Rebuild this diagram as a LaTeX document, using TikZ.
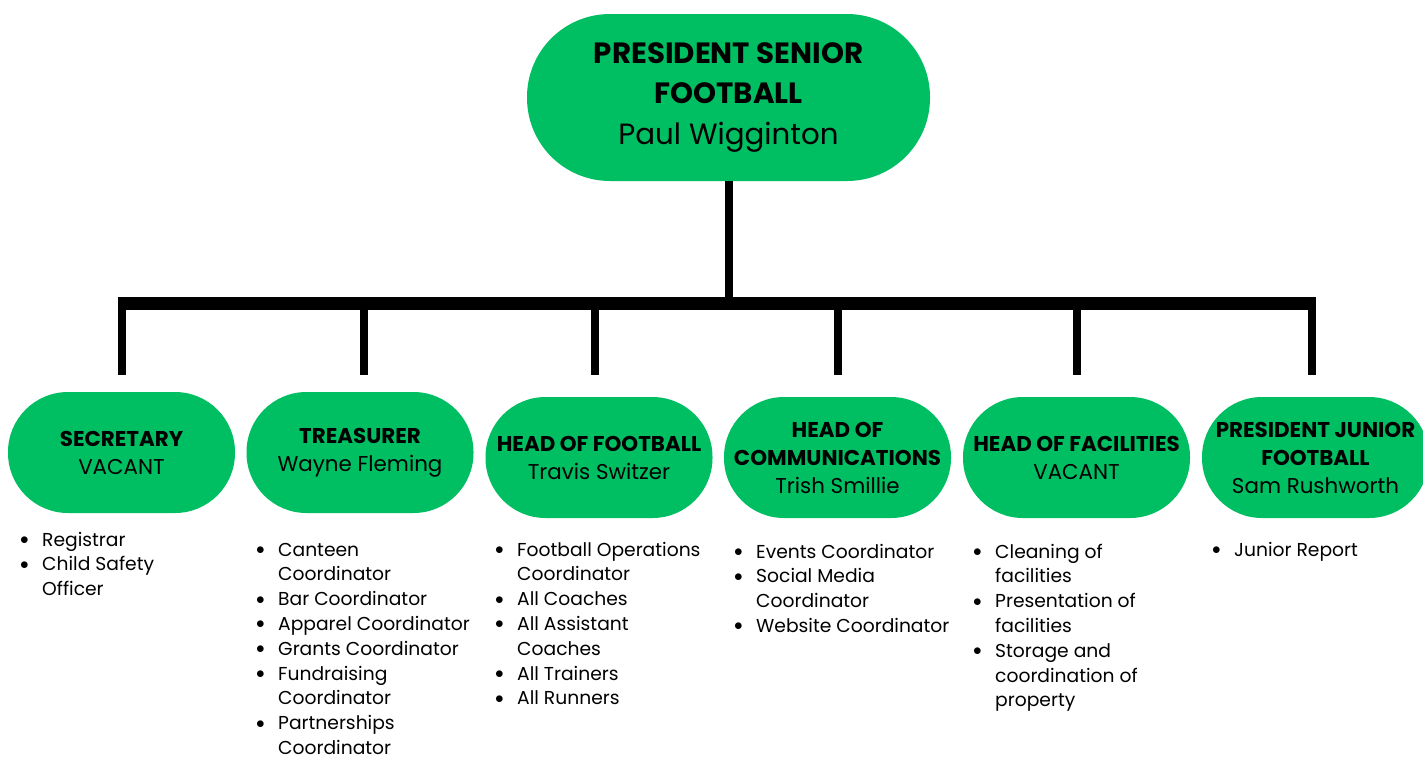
\documentclass[tikz,border=0pt]{standalone}
\usepackage{fontspec}
\setmainfont{Poppins}
\definecolor{clubgreen}{HTML}{00BF63}
\newcommand{\duties}[1]{\begin{tabular}[t]{@{}p{22pt}@{}l@{}}#1\end{tabular}}
\newcommand{\blt}{\raisebox{1.5pt}{$\bullet$}}

\begin{document}
\begin{tikzpicture}[x=1pt,y=-1pt,
	boss/.style={fill=clubgreen,rounded corners=83pt,minimum width=403pt,minimum height=167pt,align=center,font=\fontsize{29.3}{40.5}\selectfont},
	post/.style={fill=clubgreen,rounded corners=60pt,minimum width=227pt,minimum height=121pt,align=center,font=\fontsize{21.4}{28}\selectfont},
	tasks/.style={anchor=base west,inner sep=0pt,font=\fontsize{18.7}{24.8}\selectfont},
	wire/.style={line width=8pt}]
		\useasboundingbox (0,0) rectangle (1423,756);
		% boxes
		\node[boss] (top) at (728.5,97.5) {\textbf{PRESIDENT SENIOR}\\\textbf{FOOTBALL}\\Paul Wigginton};
		\node[post] (sec) at (121.5,452.5) {\textbf{SECRETARY}\\VACANT};
		\node[post] (tre) at (360,452.5) {\textbf{TREASURER}\\Wayne Fleming};
		\node[post] (hof) at (599,457.5) {\textbf{HEAD OF FOOTBALL}\\Travis Switzer};
		\node[post] (com) at (837.5,457.5) {\textbf{HEAD OF}\\\textbf{COMMUNICATIONS}\\Trish Smillie};
		\node[post] (fac) at (1076.5,457.5) {\textbf{HEAD OF FACILITIES}\\VACANT};
		\node[post] (jun) at (1315.5,457.5) {\textbf{PRESIDENT JUNIOR}\\\textbf{FOOTBALL}\\Sam Rushworth};
		% lines
		\coordinate (bar) at (728.5,303);
		\coordinate (dropend) at (0,375);
		\draw[wire] (top.south) -- (top.south |- bar);
		\draw[line width=13pt] ([xshift=-3.5pt]sec.north |- bar) -- ([xshift=0.5pt]jun.north |- bar);
		\foreach \n/\dx in {sec/0.5,tre/4,hof/-4,com/0.5,fac/0.5,jun/-3.5}
			\draw[wire] ([xshift=\dx pt]\n.north |- bar) -- ([xshift=\dx pt]\n.north |- dropend);
		% duties
		\node[tasks] (secl) at (20,546) {\duties{\blt & Registrar\\ \blt & Child Safety\\ & Officer}};
		\node[tasks] (trel) at (256,556) {\duties{\blt & Canteen\\ & Coordinator\\ \blt & Bar Coordinator\\ \blt & Apparel Coordinator\\ \blt & Grants Coordinator\\ \blt & Fundraising\\ & Coordinator\\ \blt & Partnerships\\ & Coordinator}};
		\node[tasks] (hofl) at (495,556) {\duties{\blt & Football Operations\\ & Coordinator\\ \blt & All Coaches\\ \blt & All Assistant\\ & Coaches\\ \blt & All Trainers\\ \blt & All Runners}};
		\node[tasks] (coml) at (734,558) {\duties{\blt & Events Coordinator\\ \blt & Social Media\\ & Coordinator\\ \blt & Website Coordinator}};
		\node[tasks] (facl) at (973,558) {\duties{\blt & Cleaning of\\ & facilities\\ \blt & Presentation of\\ & facilities\\ \blt & Storage and\\ & coordination of\\ & property}};
		\node[tasks] (junl) at (1212,556) {\duties{\blt & Junior Report}};
	\end{tikzpicture}
\end{document}
